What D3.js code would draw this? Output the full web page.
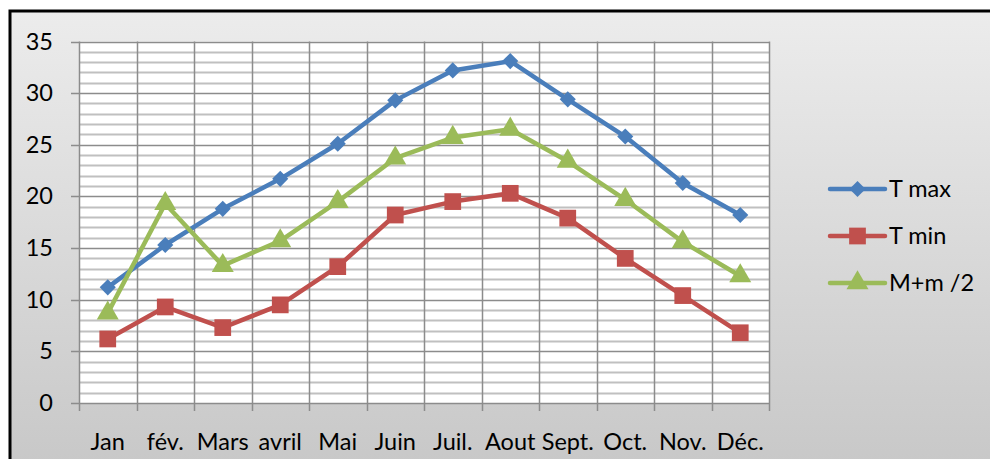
<!DOCTYPE html>
<html>
<head>
<meta charset="utf-8">
<script src="https://cdn.jsdelivr.net/npm/d3@7"></script>
<style>
	body { margin: 0; background: #fff; }
	svg { display: block; font-family: Lato, "Noto Sans", sans-serif; }
</style>
</head>
<body>
<div id="chart"></div>
<script>
const months = ["Jan", "fév.", "Mars", "avril", "Mai", "Juin", "Juil.", "Aout", "Sept.", "Oct.", "Nov.", "Déc."];
const tMax = [11.2, 15.3, 18.8, 21.7, 25.1, 29.3, 32.2, 33.1, 29.4, 25.8, 21.3, 18.2];
const tMin = [6.2, 9.3, 7.3, 9.5, 13.2, 18.2, 19.5, 20.3, 17.9, 14.0, 10.4, 6.8];
const tMoy = [8.7, 19.3, 13.3, 15.7, 19.5, 23.7, 25.7, 26.5, 23.4, 19.7, 15.6, 12.3];
const yTicks = [0, 5, 10, 15, 20, 25, 30, 35];

const series = [
	{name: "T max", values: tMax, color: "#4a7ebb", marker: "diamond"},
	{name: "T min", values: tMin, color: "#c0504d", marker: "square"},
	{name: "M+m /2", values: tMoy, color: "#9bbb59", marker: "triangle"}
];

const W = 990, H = 459;
const plot = {left: 79, right: 769, top: 41.5, bottom: 403};
const fontSize = 23.5;

const svg = d3.select("#chart")
	.append("svg")
		.attr("width", W)
		.attr("height", H);

// background gradient + frame
const grad = svg.append("defs")
	.append("linearGradient")
		.attr("id", "bg")
		.attr("x1", 0).attr("y1", 0).attr("x2", 0).attr("y2", 1);
grad.append("stop").attr("offset", "0%").attr("stop-color", "#ececec");
grad.append("stop").attr("offset", "100%").attr("stop-color", "#c6c6c6");

svg.append("rect")
	.attr("x", 10).attr("y", 11)
	.attr("width", W + 20).attr("height", H + 20)
	.attr("fill", "url(#bg)")
	.attr("stroke", "#000")
	.attr("stroke-width", 3);

const x = d3.scaleBand()
	.domain(months)
	.range([plot.left, plot.right]);

const y = d3.scaleLinear()
	.domain([0, 35])
	.range([plot.bottom, plot.top]);

// plot area
svg.append("rect")
	.attr("x", plot.left).attr("y", plot.top)
	.attr("width", plot.right - plot.left).attr("height", plot.bottom - plot.top)
	.attr("fill", "#fff");

// minor gridlines
svg.append("g")
	.selectAll("line")
	.data(d3.range(0, 36).filter(v => v % 5 !== 0))
	.join("line")
		.attr("x1", plot.left).attr("x2", plot.right)
		.attr("y1", d => Math.round(y(d)) + 0.5)
		.attr("y2", d => Math.round(y(d)) + 0.5)
		.attr("stroke", "#c0c0c0")
		.attr("stroke-width", 2);

// vertical gridlines at category boundaries
const bounds = months.map(m => x(m)).concat([plot.right]);
svg.append("g")
	.selectAll("line")
	.data(bounds)
	.join("line")
		.attr("x1", d => Math.round(d) + 0.5).attr("x2", d => Math.round(d) + 0.5)
		.attr("y1", plot.top).attr("y2", plot.bottom + 8)
		.attr("stroke", "#8c8c8c")
		.attr("stroke-width", 1.5);

// major gridlines + y ticks
svg.append("g")
	.selectAll("line")
	.data(yTicks)
	.join("line")
		.attr("x1", plot.left - 8).attr("x2", plot.right)
		.attr("y1", d => Math.round(y(d)) + 0.5)
		.attr("y2", d => Math.round(y(d)) + 0.5)
		.attr("stroke", "#8c8c8c")
		.attr("stroke-width", 1.5);

// y labels
svg.append("g")
	.selectAll("text")
	.data(yTicks)
	.join("text")
		.attr("x", 53)
		.attr("y", d => y(d) + 8)
		.attr("text-anchor", "end")
		.attr("font-size", fontSize)
		.attr("fill", "#000")
		.text(d => d);

// x labels
svg.append("g")
	.selectAll("text")
	.data(months)
	.join("text")
		.attr("x", d => x(d) + x.bandwidth() / 2)
		.attr("y", 450)
		.attr("text-anchor", "middle")
		.attr("font-size", fontSize)
		.attr("fill", "#000")
		.text(d => d);

const cx = (d, i) => x(months[i]) + x.bandwidth() / 2;

const symbolTypes = {
	diamond: d3.symbol().type(d3.symbolSquare).size(130),
	square: d3.symbol().type(d3.symbolSquare).size(280),
	triangle: d3.symbol().type(d3.symbolTriangle).size(210)
};
const rotate = {diamond: 45, square: 0, triangle: 0};

const line = d3.line()
	.x(cx)
	.y(d => y(d));

series.forEach(s => {
	const g = svg.append("g");
	g.append("path")
		.datum(s.values)
		.attr("d", line)
		.attr("fill", "none")
		.attr("stroke", s.color)
		.attr("stroke-width", 4.5)
		.attr("stroke-linejoin", "round");
	g.selectAll("path.marker")
		.data(s.values)
		.join("path")
			.attr("class", "marker")
			.attr("d", symbolTypes[s.marker])
			.attr("transform", (d, i) => `translate(${cx(d, i)}, ${y(d)}) rotate(${rotate[s.marker]})`)
			.attr("fill", s.color);
});

// legend
const legend = svg.append("g")
	.selectAll("g")
	.data(series)
	.join("g")
		.attr("transform", (d, i) => `translate(830, ${189 + i * 47})`);

legend.append("line")
	.attr("x1", 0).attr("x2", 55)
	.attr("stroke", d => d.color)
	.attr("stroke-width", 4.5)
	.attr("stroke-linecap", "round");

legend.append("path")
	.attr("d", d => symbolTypes[d.marker]())
	.attr("transform", d => `translate(27.5, 0) rotate(${rotate[d.marker]})`)
	.attr("fill", d => d.color);

legend.append("text")
	.attr("x", 59)
	.attr("y", 8)
	.attr("font-size", fontSize)
	.attr("fill", "#000")
	.text(d => d.name);
</script>
</body>
</html>
